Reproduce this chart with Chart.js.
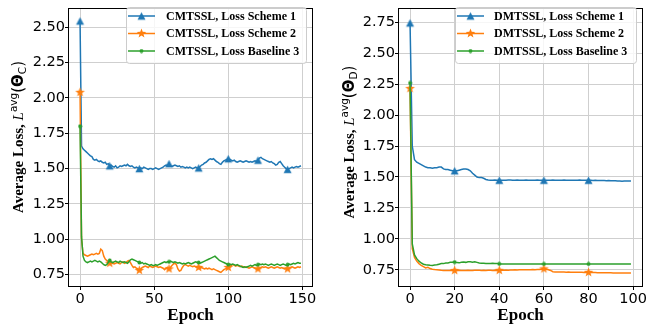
<!DOCTYPE html>
<html>
<head>
<meta charset="utf-8">
<script src="https://cdn.jsdelivr.net/npm/chart.js@4.4.0/dist/chart.umd.min.js"></script>
<style>
  html, body { margin: 0; padding: 0; background: #fff; }
  #wrap { position: relative; width: 667px; height: 326px; }
  #wrap canvas { position: absolute; top: 0; }
</style>
</head>
<body>
<div id="wrap">
  <canvas id="chartC" width="333" height="326" style="left:0"></canvas>
  <canvas id="chartD" width="334" height="326" style="left:333px"></canvas>
</div>
<script>
// === Données ===
const lossC1 = [2.545,1.66,1.64,1.63,1.62,1.61,1.60,1.59,1.585,1.565,
  1.56,1.565,1.555,1.55,1.555,1.545,1.54,1.545,1.53,1.535,
  1.52,1.525,1.515,1.51,1.52,1.505,1.51,1.52,1.515,1.52,
  1.525,1.52,1.53,1.52,1.515,1.52,1.51,1.505,1.51,1.505,
  1.50,1.505,1.50,1.51,1.505,1.50,1.495,1.50,1.50,1.495,
  1.50,1.505,1.50,1.495,1.50,1.505,1.51,1.52,1.525,1.52,
  1.535,1.52,1.515,1.52,1.525,1.52,1.515,1.52,1.51,1.515,
  1.51,1.505,1.51,1.505,1.51,1.505,1.50,1.505,1.51,1.505,
  1.505,1.515,1.525,1.53,1.54,1.545,1.555,1.565,1.57,1.565,
  1.57,1.56,1.55,1.545,1.535,1.53,1.545,1.555,1.56,1.565,
  1.57,1.565,1.56,1.555,1.56,1.55,1.545,1.55,1.555,1.55,
  1.545,1.55,1.555,1.55,1.545,1.55,1.545,1.55,1.555,1.55,
  1.56,1.575,1.58,1.57,1.565,1.56,1.555,1.55,1.545,1.55,
  1.54,1.535,1.525,1.53,1.545,1.55,1.535,1.52,1.51,1.50,
  1.495,1.50,1.505,1.51,1.505,1.51,1.515,1.51,1.515,1.52];

const lossC2 = [2.04,1.00,0.90,0.89,0.885,0.88,0.885,0.89,0.895,0.89,
  0.895,0.90,0.895,0.90,0.93,0.92,0.88,0.86,0.85,0.84,
  0.83,0.835,0.83,0.825,0.83,0.835,0.83,0.825,0.835,0.84,
  0.83,0.835,0.845,0.85,0.835,0.815,0.80,0.805,0.795,0.79,
  0.78,0.79,0.80,0.805,0.81,0.805,0.80,0.81,0.805,0.80,
  0.805,0.81,0.805,0.80,0.805,0.80,0.795,0.785,0.795,0.80,
  0.79,0.80,0.815,0.825,0.83,0.82,0.79,0.775,0.78,0.80,
  0.815,0.82,0.815,0.81,0.815,0.81,0.805,0.81,0.805,0.80,
  0.80,0.795,0.80,0.795,0.79,0.795,0.79,0.795,0.79,0.785,
  0.79,0.785,0.78,0.775,0.77,0.765,0.775,0.785,0.79,0.795,
  0.80,0.81,0.815,0.82,0.815,0.81,0.815,0.81,0.805,0.81,
  0.805,0.80,0.805,0.80,0.795,0.80,0.805,0.80,0.795,0.79,
  0.79,0.795,0.80,0.805,0.80,0.805,0.80,0.795,0.80,0.805,
  0.80,0.795,0.80,0.805,0.80,0.795,0.80,0.795,0.79,0.795,
  0.79,0.795,0.80,0.805,0.80,0.795,0.80,0.805,0.80,0.805];

const lossC3 = [1.80,1.02,0.88,0.85,0.84,0.835,0.84,0.845,0.84,0.845,
  0.85,0.845,0.84,0.845,0.84,0.83,0.82,0.815,0.82,0.835,
  0.85,0.84,0.835,0.84,0.845,0.84,0.835,0.845,0.84,0.835,
  0.84,0.835,0.83,0.84,0.855,0.86,0.855,0.85,0.845,0.84,
  0.835,0.83,0.835,0.825,0.83,0.825,0.82,0.815,0.82,0.815,
  0.815,0.82,0.815,0.82,0.825,0.83,0.835,0.84,0.835,0.84,
  0.84,0.845,0.84,0.835,0.84,0.835,0.83,0.835,0.83,0.825,
  0.83,0.825,0.83,0.835,0.83,0.825,0.83,0.835,0.84,0.835,
  0.835,0.83,0.835,0.84,0.845,0.85,0.855,0.86,0.865,0.87,
  0.875,0.88,0.87,0.86,0.85,0.845,0.84,0.835,0.83,0.825,
  0.82,0.825,0.82,0.825,0.82,0.815,0.82,0.815,0.81,0.805,
  0.80,0.805,0.80,0.805,0.81,0.815,0.81,0.815,0.82,0.815,
  0.82,0.825,0.82,0.825,0.82,0.825,0.82,0.815,0.82,0.825,
  0.82,0.815,0.82,0.825,0.82,0.815,0.82,0.825,0.82,0.815,
  0.82,0.825,0.82,0.825,0.83,0.825,0.83,0.835,0.83,0.83];

const lossD1 = [2.745,1.75,1.64,1.62,1.61,1.60,1.59,1.58,1.575,1.575,
  1.57,1.575,1.575,1.58,1.58,1.565,1.56,1.56,1.555,1.55,
  1.55,1.55,1.555,1.56,1.565,1.565,1.56,1.55,1.53,1.515,
  1.50,1.495,1.495,1.49,1.48,1.475,1.474,1.474,1.475,1.474,
  1.474,1.473,1.474,1.474,1.475,1.476,1.474,1.474,1.475,1.474,
  1.473,1.474,1.475,1.474,1.474,1.473,1.474,1.475,1.474,1.474,
  1.474,1.473,1.474,1.474,1.475,1.474,1.473,1.474,1.474,1.475,
  1.474,1.473,1.474,1.474,1.473,1.474,1.475,1.474,1.473,1.474,
  1.474,1.473,1.472,1.473,1.472,1.471,1.472,1.471,1.470,1.471,
  1.470,1.469,1.470,1.468,1.467,1.466,1.467,1.467,1.468,1.468];

const lossD2 = [2.215,0.92,0.85,0.82,0.80,0.785,0.775,0.765,0.77,0.76,
  0.755,0.752,0.75,0.748,0.746,0.745,0.745,0.744,0.745,0.745,
  0.744,0.745,0.746,0.745,0.744,0.745,0.746,0.745,0.745,0.746,
  0.747,0.746,0.745,0.746,0.745,0.746,0.746,0.745,0.746,0.745,
  0.745,0.746,0.747,0.748,0.747,0.748,0.749,0.75,0.749,0.75,
  0.751,0.75,0.751,0.75,0.751,0.752,0.751,0.752,0.753,0.755,
  0.757,0.755,0.75,0.745,0.735,0.733,0.732,0.733,0.732,0.732,
  0.731,0.732,0.731,0.731,0.730,0.731,0.730,0.730,0.729,0.729,
  0.729,0.728,0.728,0.728,0.727,0.727,0.727,0.726,0.726,0.726,
  0.726,0.725,0.725,0.725,0.725,0.724,0.725,0.725,0.724,0.724];

const lossD3 = [2.26,0.96,0.87,0.84,0.82,0.805,0.795,0.79,0.788,0.786,
  0.785,0.788,0.79,0.795,0.80,0.80,0.805,0.805,0.81,0.81,
  0.812,0.808,0.806,0.81,0.812,0.81,0.815,0.815,0.812,0.815,
  0.81,0.805,0.802,0.802,0.80,0.80,0.80,0.802,0.80,0.80,
  0.798,0.797,0.797,0.797,0.797,0.797,0.797,0.797,0.797,0.797,
  0.797,0.797,0.797,0.797,0.797,0.797,0.797,0.797,0.797,0.797,
  0.797,0.797,0.797,0.797,0.797,0.797,0.797,0.797,0.797,0.797,
  0.797,0.797,0.797,0.797,0.797,0.797,0.797,0.797,0.797,0.797,
  0.797,0.797,0.797,0.797,0.797,0.797,0.797,0.797,0.797,0.797,
  0.797,0.797,0.797,0.797,0.797,0.797,0.797,0.797,0.797,0.797];

const labelsC = ['CMTSSL, Loss Scheme 1', 'CMTSSL, Loss Scheme 2', 'CMTSSL, Loss Baseline 3'];
const labelsD = ['DMTSSL, Loss Scheme 1', 'DMTSSL, Loss Scheme 2', 'DMTSSL, Loss Baseline 3'];

const xTicksC = [0, 50, 100, 150];
const yTicksC = [0.75, 1.00, 1.25, 1.50, 1.75, 2.00, 2.25, 2.50];
const xTicksD = [0, 20, 40, 60, 80, 100];
const yTicksD = [0.75, 1.00, 1.25, 1.50, 1.75, 2.00, 2.25, 2.50, 2.75];

const colors = ['#1f77b4', '#ff7f0e', '#2ca02c'];
const markEvery = 20;

// === Marqueurs (triangle, étoile, point) ===
function makeMarker(kind, color) {
  const c = document.createElement('canvas');
  const s = kind === 'dot' ? 5 : 11;
  c.width = s; c.height = s;
  const g = c.getContext('2d');
  const m = s / 2;
  g.fillStyle = color;
  g.beginPath();
  if (kind === 'tri') {
    g.moveTo(m, m - 3.7);
    g.lineTo(m + 4, m + 3.7);
    g.lineTo(m - 4, m + 3.7);
  } else if (kind === 'star') {
    for (let k = 0; k < 10; k++) {
      const r = k % 2 ? 2.1 : 5;
      const a = -Math.PI / 2 + k * Math.PI / 5;
      g.lineTo(m + r * Math.cos(a), m + r * Math.sin(a));
    }
  } else {
    g.arc(m, m, 1.9, 0, Math.PI * 2);
  }
  g.closePath();
  g.fill();
  return c;
}
const markers = [makeMarker('tri', colors[0]), makeMarker('star', colors[1]), makeMarker('dot', colors[2])];

// === Plugins : cadre, titre Y, légende ===
const framePlugin = {
  id: 'frame',
  afterDatasetsDraw(chart) {
    const { ctx, chartArea: a } = chart;
    ctx.save();
    ctx.strokeStyle = '#000';
    ctx.lineWidth = 1;
    ctx.strokeRect(Math.round(a.left) - 0.5, Math.round(a.top) - 0.5,
      Math.round(a.right - a.left) + 1, Math.round(a.bottom - a.top) + 1);
    ctx.restore();
  }
};

const yTitlePlugin = {
  id: 'ytitle',
  afterDraw(chart, args, o) {
    const ctx = chart.ctx;
    const parts = [
      { t: 'Average Loss, ', f: 'bold 15px "Liberation Serif"', dy: 0 },
      { t: 'L', f: 'italic 15px "Liberation Serif"', dy: 0 },
      { t: 'avg', f: '10.5px "DejaVu Sans"', dy: -6 },
      { t: '(', f: '15px "DejaVu Sans"', dy: 0 },
      { t: '\u0398', f: 'bold 15px "DejaVu Sans"', dy: 0 },
      { t: o.sub, f: '10.5px "DejaVu Sans"', dy: 3 },
      { t: ')', f: '15px "DejaVu Sans"', dy: 0 }
    ];
    ctx.save();
    let total = 0;
    parts.forEach(p => { ctx.font = p.f; p.w = ctx.measureText(p.t).width; total += p.w; });
    ctx.translate(o.x, o.y);
    ctx.rotate(-Math.PI / 2);
    ctx.fillStyle = '#000';
    ctx.textBaseline = 'alphabetic';
    let x = -total / 2;
    parts.forEach(p => { ctx.font = p.f; ctx.fillText(p.t, x, p.dy); x += p.w; });
    ctx.restore();
  }
};

const legendPlugin = {
  id: 'boxlegend',
  afterDraw(chart, args, o) {
    const ctx = chart.ctx;
    const b = o.box;
    ctx.save();
    ctx.beginPath();
    ctx.roundRect(b.x + 0.5, b.y + 0.5, b.w, b.h, 3);
    ctx.fillStyle = 'rgba(255,255,255,0.8)';
    ctx.fill();
    ctx.strokeStyle = '#cccccc';
    ctx.lineWidth = 1;
    ctx.stroke();
    o.labels.forEach((txt, i) => {
      const y = b.y + 9 + i * 17.5;
      ctx.beginPath();
      ctx.moveTo(b.x + 2, y);
      ctx.lineTo(b.x + 29, y);
      ctx.strokeStyle = colors[i];
      ctx.lineWidth = 1.5;
      ctx.stroke();
      const mk = markers[i];
      ctx.drawImage(mk, b.x + 15.5 - mk.width / 2, y - mk.height / 2);
      ctx.fillStyle = '#000';
      ctx.font = 'bold 12px "Liberation Serif"';
      ctx.textBaseline = 'middle';
      ctx.fillText(txt, b.x + o.textDx, y + 0.5);
    });
    ctx.restore();
  }
};

function makeChart(id, series, labels, xTicks, yTicks, cfg) {
  const datasets = series.map((vals, i) => ({
    label: labels[i],
    data: vals.map((v, k) => ({ x: k, y: v })),
    borderColor: colors[i],
    backgroundColor: colors[i],
    borderWidth: 1.5,
    tension: 0,
    pointStyle: markers[i],
    pointRadius: c => (c.dataIndex % markEvery === 0 ? 3 : 0),
    order: 3 - i
  }));
  return new Chart(document.getElementById(id), {
    type: 'line',
    data: { datasets },
    options: {
      responsive: false,
      animation: false,
      events: [],
      layout: { padding: { top: 2, right: cfg.padRight, bottom: 0, left: 0 } },
      plugins: {
        legend: { display: false },
        tooltip: { enabled: false },
        ytitle: cfg.ytitle,
        boxlegend: { box: cfg.legendBox, labels, textDx: cfg.textDx }
      },
      scales: {
        x: {
          type: 'linear', min: cfg.xMin, max: cfg.xMax,
          afterBuildTicks: s => { s.ticks = xTicks.map(v => ({ value: v })); },
          afterFit: s => { s.height = 40; },
          grid: { color: '#cfcfcf', tickColor: '#000', tickLength: 4, lineWidth: 1 },
          border: { display: false },
          ticks: { color: '#000', font: { family: 'DejaVu Sans', size: 14.5 }, padding: 1, maxRotation: 0, autoSkip: false,
                   callback: v => String(v) },
          title: { display: true, text: 'Epoch', color: '#000', padding: { top: 0, bottom: 0 },
                   font: { family: 'Liberation Serif', size: 17, weight: 'bold' } }
        },
        y: {
          type: 'linear', min: cfg.yMin, max: cfg.yMax,
          afterBuildTicks: s => { s.ticks = yTicks.map(v => ({ value: v })); },
          afterFit: s => { s.width = cfg.yWidth; },
          grid: { color: '#cfcfcf', tickColor: '#000', tickLength: 4, lineWidth: 1 },
          border: { display: false },
          ticks: { color: '#000', font: { family: 'DejaVu Sans', size: 14.5 }, padding: 0, autoSkip: false,
                   callback: v => Number(v).toFixed(2) }
        }
      }
    },
    plugins: [framePlugin, yTitlePlugin, legendPlugin]
  });
}

makeChart('chartC', [lossC1, lossC2, lossC3], labelsC, xTicksC, yTicksC, {
  xMin: -7.45, xMax: 156.45, yMin: 0.669, yMax: 2.632,
  yWidth: 69, padRight: 21,
  ytitle: { x: 23, y: 137, sub: 'C' },
  legendBox: { x: 126, y: 7, w: 180, h: 56 }, textDx: 40
});

makeChart('chartD', [lossD1, lossD2, lossD3], labelsD, xTicksD, yTicksD, {
  xMin: -4.95, xMax: 103.95, yMin: 0.619, yMax: 2.86,
  yWidth: 66, padRight: 25,
  ytitle: { x: 21, y: 142, sub: 'D' },
  legendBox: { x: 122, y: 7, w: 181, h: 56 }, textDx: 39
});
</script>
</body>
</html>
